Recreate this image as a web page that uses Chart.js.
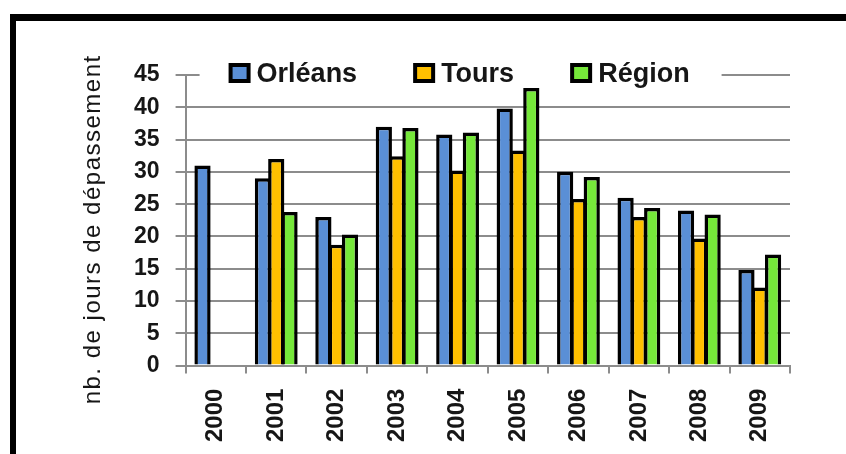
<!DOCTYPE html>
<html lang="fr">
<head>
<meta charset="utf-8">
<title>Jours de dépassement</title>
<script src="https://cdn.jsdelivr.net/npm/chart.js@4.4.1/dist/chart.umd.min.js"></script>
<style>
  html, body { margin: 0; padding: 0; background: #fff; }
  #wrap { position: relative; width: 846px; height: 454px; overflow: hidden; }
  #frame {
    position: absolute; left: 10px; top: 14px; right: -10px; bottom: -10px;
    border-top: 7px solid #000; border-left: 6px solid #000;
    pointer-events: none;
  }
</style>
</head>
<body>
<div id="wrap">
  <canvas id="depChart" width="846" height="454"></canvas>
  <div id="frame"></div>
</div>
<script>
const years = ['2000', '2001', '2002', '2003', '2004', '2005', '2006', '2007', '2008', '2009'];
const orleans = [31, 29, 23, 37, 35.8, 39.8, 30, 26, 24, 14.8];
const tours = [null, 32, 18.7, 32.4, 30.2, 33.3, 25.8, 23, 19.7, 12.1];
const region = [null, 23.8, 20.3, 36.8, 36.1, 43, 29.2, 24.4, 23.4, 17.2];
const yTicks = [0, 5, 10, 15, 20, 25, 30, 35, 40, 45];
const yTitle = 'nb. de jours de dépassement';

const gridGrey = '#8c8c8c';
const textColor = '#161616';
const fontFamily = '"Liberation Sans", Arial, sans-serif';

// legend drawn inline on the 45 gridline, on a white strip
const inlineLegend = {
  id: 'inlineLegend',
  beforeDatasetsDraw(chart) {
    const { ctx, chartArea, scales } = chart;
    const y = scales.y.getPixelForValue(yTicks[yTicks.length - 1]);
    ctx.save();
    ctx.fillStyle = '#fff';
    ctx.fillRect(chartArea.left + 14, y - 14, 522, 26);
    ctx.font = 'bold 27px ' + fontFamily;
    ctx.textBaseline = 'alphabetic';
    let x = chartArea.left + 45;
    chart.data.datasets.forEach(function(ds) {
      ctx.fillStyle = ds.backgroundColor;
      ctx.fillRect(x, y - 10, 18, 16);
      ctx.strokeStyle = '#000';
      ctx.lineWidth = 4;
      ctx.strokeRect(x, y - 10, 18, 16);
      ctx.fillStyle = textColor;
      ctx.fillText(ds.label, x + 26, y + 6.5);
      x += 26 + ctx.measureText(ds.label).width + 58;
    });
    ctx.restore();
  }
};

// rotated y title, a little letter-spaced
const sideTitle = {
  id: 'sideTitle',
  afterDraw(chart) {
    const { ctx, chartArea } = chart;
    ctx.save();
    ctx.translate(93, (chartArea.top + chartArea.bottom) / 2 + 9);
    ctx.rotate(-Math.PI / 2);
    ctx.font = '24px ' + fontFamily;
    if ('letterSpacing' in ctx) ctx.letterSpacing = '1.5px';
    ctx.fillStyle = textColor;
    ctx.textAlign = 'center';
    ctx.textBaseline = 'middle';
    ctx.fillText(yTitle, 0, 0);
    ctx.restore();
  }
};

const barStyle = {
  borderColor: '#000',
  borderWidth: 3.5,
  barPercentage: 1.22,
  categoryPercentage: 0.66
};

const ctx = document.getElementById('depChart').getContext('2d');
const depChart = new Chart(ctx, {
  type: 'bar',
  data: {
    labels: years,
    datasets: [
      Object.assign({ label: 'Orléans', data: orleans, backgroundColor: '#5a8fd6' }, barStyle),
      Object.assign({ label: 'Tours', data: tours, backgroundColor: '#ffc000' }, barStyle),
      Object.assign({ label: 'Région', data: region, backgroundColor: '#76e83a' }, barStyle)
    ]
  },
  options: {
    responsive: false,
    animation: false,
    layout: {
      padding: { left: 118, right: 56, top: 75, bottom: -3 }
    },
    plugins: {
      legend: { display: false },
      tooltip: { enabled: false }
    },
    scales: {
      x: {
        grid: {
          drawOnChartArea: false,
          drawTicks: true,
          tickLength: 8,
          color: gridGrey,
          lineWidth: 2
        },
        border: { color: gridGrey, width: 2 },
        ticks: {
          color: textColor,
          minRotation: 90,
          maxRotation: 90,
          padding: 15,
          font: { family: fontFamily, size: 24, weight: 'bold' }
        }
      },
      y: {
        min: 0,
        max: 45,
        afterBuildTicks: function(scale) {
          scale.ticks = yTicks.map(function(v) { return { value: v }; });
        },
        grid: {
          color: gridGrey,
          lineWidth: 2,
          tickLength: 10
        },
        border: { color: gridGrey, width: 2 },
        ticks: {
          color: textColor,
          padding: 16,
          font: { family: fontFamily, size: 23, weight: 'bold' }
        }
      }
    }
  },
  plugins: [inlineLegend, sideTitle]
});
</script>
</body>
</html>
